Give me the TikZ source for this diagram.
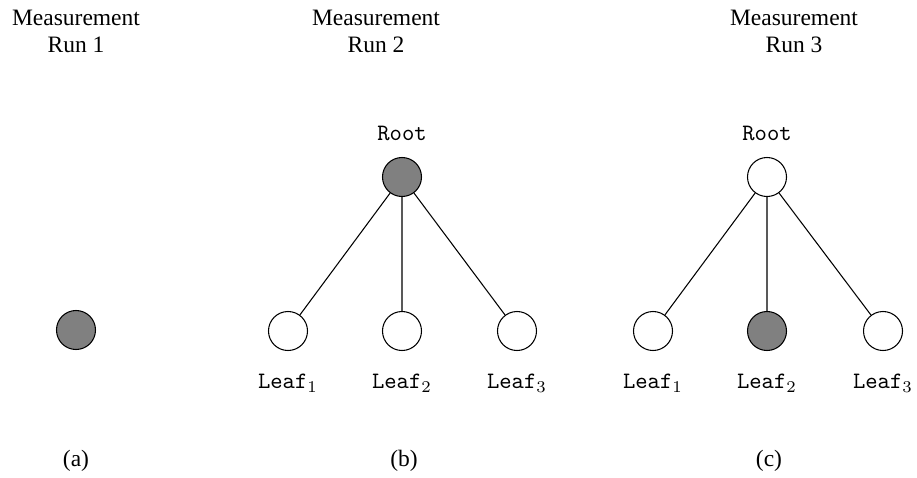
\documentclass[tikz,border=0pt]{standalone}
\usepackage{fontspec}
\setmainfont{Liberation Serif}
\begin{document}
\begin{tikzpicture}[x=0.4255pt,y=-0.4255pt,
  st/.style={circle,draw,line width=0.45pt,minimum size=16.6pt,inner sep=0pt},
  on/.style={st,fill=black!50},
  off/.style={st,fill=white},
  hdr/.style={align=center,font=\fontsize{10}{11.5}\selectfont},
  lbl/.style={font=\fontsize{10}{12}\selectfont},
  edge/.style={line width=0.45pt}]
\useasboundingbox (0,0) rectangle (917,477);
% headers
\node[hdr] (h1) at (76,31) {Measurement\\Run 1};
\node[hdr] (h2) at (376,31) {Measurement\\Run 2};
\node[hdr] (h3) at (794,31) {Measurement\\Run 3};
% (a)
\node[on] (a) at (76,330) {};
% (b)
\node[on] (rb) at (402,177) {};
\node[lbl] (rbl) at (402,133) {\texttt{Root}};
\node[off] (b1) at (288,331) {};
\node[off] (b2) at (402,331) {};
\node[off] (b3) at (517,331) {};
\node[lbl] (b1l) at (288,383) {\texttt{Leaf}$_1$};
\node[lbl] (b2l) at (402,383) {\texttt{Leaf}$_2$};
\node[lbl] (b3l) at (517,383) {\texttt{Leaf}$_3$};
\draw[edge] (rb) -- (b1) (rb) -- (b2) (rb) -- (b3);
% (c)
\node[off] (rc) at (767,177) {};
\node[lbl] (rcl) at (767,133) {\texttt{Root}};
\node[off] (c1) at (653,331) {};
\node[on] (c2) at (767,331) {};
\node[off] (c3) at (883,331) {};
\node[lbl] (c1l) at (653,383) {\texttt{Leaf}$_1$};
\node[lbl] (c2l) at (767,383) {\texttt{Leaf}$_2$};
\node[lbl] (c3l) at (883,383) {\texttt{Leaf}$_3$};
\draw[edge] (rc) -- (c1) (rc) -- (c2) (rc) -- (c3);
% captions
\node[lbl] (ca) at (76,461) {(a)};
\node[lbl] (cb) at (404,461) {(b)};
\node[lbl] (cc) at (769,461) {(c)};
\end{tikzpicture}
\end{document}
